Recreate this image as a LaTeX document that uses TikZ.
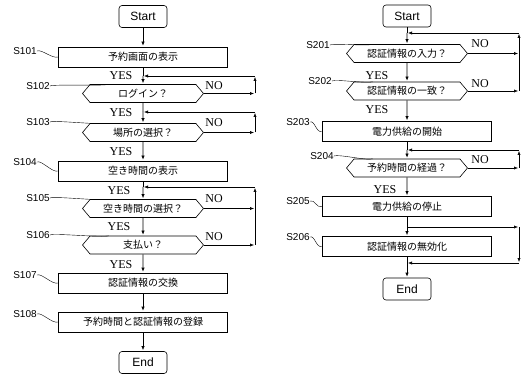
\documentclass[tikz,border=0pt]{standalone}
\usepackage{fontspec}
\setmainfont{Liberation Serif}
\setsansfont{Liberation Sans}
\newfontfamily\jpfont{Noto Sans CJK JP}
\usetikzlibrary{shapes.symbols,arrows.meta}
\tikzset{
  flowbox/.style={draw,line width=0.6pt,minimum width=169pt,minimum height=20pt,inner sep=0pt,font=\jpfont\fontsize{10}{12}\selectfont},
  termbox/.style={draw,line width=0.6pt,rounded corners=3pt,minimum width=48pt,minimum height=22pt,inner sep=0pt,font=\sffamily\fontsize{12}{14}\selectfont},
  askbox/.style={draw,line width=0.6pt,signal,signal to=west and east,signal pointer angle=100,minimum width=121pt,minimum height=18pt,inner sep=0pt,font=\jpfont\fontsize{10}{12}\selectfont},
  steplbl/.style={inner sep=0pt,font=\sffamily\fontsize{10}{12}\selectfont},
  answer/.style={inner sep=0pt,font=\rmfamily\fontsize{12}{14}\selectfont},
  flowarr/.style={line width=0.6pt,-{Latex[length=4pt,width=3.2pt]},shorten >=1pt},
  flowline/.style={line width=0.6pt},
  leader/.style={line width=0.4pt}
}
\begin{document}
\begin{tikzpicture}[x=1pt,y=-1pt]
\useasboundingbox (0,0) rectangle (521,379);
% left chart
\coordinate (rail1) at (255,0);
\coordinate (j102) at (143,76);
\coordinate (j103) at (143,112);
\coordinate (j105) at (143,187);
\node[termbox] (start1) at (143,16.5) {Start};
\node[flowbox] (st101) at (143,57) {予約画面の表示};
\node[askbox] (st102) at (143,93.5) {ログイン？};
\node[askbox] (st103) at (143,132.5) {場所の選択？};
\node[flowbox] (st104) at (143,171) {空き時間の表示};
\node[askbox] (st105) at (143,208.5) {空き時間の選択？};
\node[askbox] (st106) at (143,245) {支払い？};
\node[flowbox] (st107) at (143,283) {認証情報の交換};
\node[flowbox] (st108) at (143,322) {予約時間と認証情報の登録};
\node[termbox] (end1) at (143,362.5) {End};

\node[steplbl] (lbl101) at (25,51) {S101};
\node[steplbl] (lbl102) at (38,86) {S102};
\node[steplbl] (lbl103) at (38,122) {S103};
\node[steplbl] (lbl104) at (25,162) {S104};
\node[steplbl] (lbl105) at (38,198) {S105};
\node[steplbl] (lbl106) at (38,235) {S106};
\node[steplbl] (lbl107) at (25,275) {S107};
\node[steplbl] (lbl108) at (25,314) {S108};
\draw[leader] (lbl101.east) .. controls +(5,-2) and +(-6,2) .. (st101.west);
\draw[leader] (lbl102.east) .. controls +(5,-2) and +(-6,2) .. (st102.165);
\draw[leader] (lbl103.east) .. controls +(5,-2) and +(-6,2) .. (st103.165);
\draw[leader] (lbl104.east) .. controls +(5,-2) and +(-6,2) .. (st104.west);
\draw[leader] (lbl105.east) .. controls +(5,-2) and +(-6,2) .. (st105.165);
\draw[leader] (lbl106.east) .. controls +(5,-2) and +(-6,2) .. (st106.165);
\draw[leader] (lbl107.east) .. controls +(5,-2) and +(-6,2) .. (st107.west);
\draw[leader] (lbl108.east) .. controls +(5,-2) and +(-6,2) .. (st108.west);

\node[answer] (yes102) at (121,76) {YES};
\node[answer] (yes103) at (121,113) {YES};
\node[answer] (yes104) at (121,152) {YES};
\node[answer] (yes105) at (119,191) {YES};
\node[answer] (yes106) at (119,227) {YES};
\node[answer] (yes107) at (121,265) {YES};
\node[answer] (no102) at (214,85.5) {NO};
\node[answer] (no103) at (214,123) {NO};
\node[answer] (no105) at (214,199) {NO};
\node[answer] (no106) at (214,236.5) {NO};

\draw[flowarr] (start1) -- (st101);
\draw[flowline] (st101) -- (j102);
\draw[flowarr] (j102) -- (st102);
\draw[flowline] (st102) -- (j103);
\draw[flowarr] (j103) -- (st103);
\draw[flowarr] (st103) -- (st104);
\draw[flowline] (st104) -- (j105);
\draw[flowarr] (j105) -- (st105);
\draw[flowarr] (st105) -- (st106);
\draw[flowarr] (st106) -- (st107);
\draw[flowarr] (st107) -- (st108);
\draw[flowarr] (st108) -- (end1);
% NO loops
\draw[flowarr] (st102.east) -- (st102.east -| rail1);
\draw[flowarr] (st102.east -| rail1) -- (j102 -| rail1);
\draw[flowarr] (j102 -| rail1) -- (j102);
\draw[flowarr] (st103.east) -- (st103.east -| rail1);
\draw[flowarr] (st103.east -| rail1) -- (j103 -| rail1);
\draw[flowarr] (j103 -| rail1) -- (j103);
\draw[flowarr] (st105.east) -- (st105.east -| rail1);
\draw[flowarr] (st106.east) -- (st106.east -| rail1);
\draw[flowarr] (st106.east -| rail1) -- (j105 -| rail1);
\draw[flowarr] (j105 -| rail1) -- (j105);

% right chart
\coordinate (rail2) at (519,0);
\coordinate (j201) at (407,33);
\coordinate (j204) at (407,150);
\coordinate (b205) at (407,227);
\coordinate (r206) at (407,263);
\node[termbox] (start2) at (407,16) {Start};
\node[askbox] (st201) at (407,53.5) {認証情報の入力？};
\node[askbox] (st202) at (407,91) {認証情報の一致？};
\node[flowbox] (st203) at (407,131.5) {電力供給の開始};
\node[askbox] (st204) at (407,168) {予約時間の経過？};
\node[flowbox] (st205) at (407,206.5) {電力供給の停止};
\node[flowbox] (st206) at (407,246.5) {認証情報の無効化};
\node[termbox] (end2) at (407,289) {End};

\node[steplbl] (lbl201) at (318,45) {S201};
\node[steplbl] (lbl202) at (320,81) {S202};
\node[steplbl] (lbl203) at (298,122) {S203};
\node[steplbl] (lbl204) at (322,156) {S204};
\node[steplbl] (lbl205) at (298,201) {S205};
\node[steplbl] (lbl206) at (298,237) {S206};
\draw[leader] (lbl201.east) .. controls +(5,-2) and +(-6,2) .. (st201.165);
\draw[leader] (lbl202.east) .. controls +(5,-2) and +(-6,2) .. (st202.165);
\draw[leader] (lbl203.east) .. controls +(5,-2) and +(-6,2) .. (st203.west);
\draw[leader] (lbl204.east) .. controls +(5,-2) and +(-6,2) .. (st204.165);
\draw[leader] (lbl205.east) .. controls +(5,-2) and +(-6,2) .. (st205.west);
\draw[leader] (lbl206.east) .. controls +(5,-2) and +(-6,2) .. (st206.west);

\node[answer] (yes202) at (377,76) {YES};
\node[answer] (yes203) at (377,110) {YES};
\node[answer] (yes205) at (385,190) {YES};
\node[answer] (no201) at (480,44) {NO};
\node[answer] (no202) at (480,84) {NO};
\node[answer] (no204) at (480,160) {NO};

\draw[flowline] (start2) -- (j201);
\draw[flowarr] (j201) -- (st201);
\draw[flowarr] (st201) -- (st202);
\draw[flowarr] (st202) -- (st203);
\draw[flowline] (st203) -- (j204);
\draw[flowarr] (j204) -- (st204);
\draw[flowarr] (st204) -- (st205);
\draw[flowline] (st205) -- (b205);
\draw[flowarr] (b205) -- (st206);
\draw[flowline] (st206) -- (r206);
\draw[flowarr] (r206) -- (end2);
% NO loops and bypass
\draw[flowarr] (st201.east) -- (st201.east -| rail2);
\draw[flowarr] (st202.east) -- (st202.east -| rail2);
\draw[flowarr] (st202.east -| rail2) -- (j201 -| rail2);
\draw[flowarr] (j201 -| rail2) -- (j201);
\draw[flowarr] (st204.east) -- (st204.east -| rail2);
\draw[flowarr] (st204.east -| rail2) -- (j204 -| rail2);
\draw[flowarr] (j204 -| rail2) -- (j204);
\draw[flowarr] (b205) -- (b205 -| rail2);
\draw[flowarr] (b205 -| rail2) -- (r206 -| rail2);
\draw[flowarr] (r206 -| rail2) -- (r206);
\end{tikzpicture}
\end{document}
